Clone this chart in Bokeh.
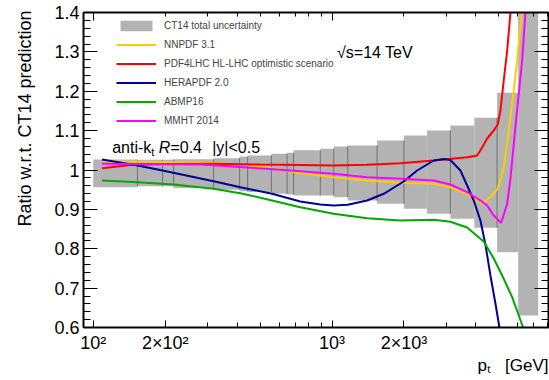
from bokeh.plotting import figure
from bokeh.models import (Range1d, FixedTicker, LogAxis, LinearAxis, Legend,
                          LegendItem, Label, Title, ColumnDataSource)
from bokeh.embed import file_html
from bokeh.resources import INLINE

FONT = "Liberation Sans"

# ---------------- data ----------------
# CT14 total uncertainty band (bin edges in GeV, ratio limits)
band_edges = [100, 153, 195, 217, 319, 410, 443, 557, 648, 690, 893, 1016,
              1163, 1544, 2000, 2500, 3130, 3945, 4910, 6015, 7294]
band_high = [1.0267, 1.026, 1.026, 1.027, 1.030, 1.034, 1.037, 1.041, 1.044,
             1.050, 1.0537, 1.0597, 1.0622, 1.0749, 1.0876, 1.1003, 1.1130,
             1.1326, 1.196, 1.45]
band_low = [0.9563, 0.959, 0.959, 0.954, 0.950, 0.946, 0.944, 0.9396, 0.938,
            0.935, 0.9352, 0.9309, 0.9225, 0.9142, 0.9015, 0.8888, 0.8760,
            0.8532, 0.7912, 0.6305]
# which interior bin edges show a darker separator line
band_edge_line = [1, 1, 1, 1, 1, 1, 1, 1, 1, 1, 1, 1, 1, 1, 0, 1, 0, 1, 0]

nnpdf_pt = [108.8, 173.3, 280.7, 412.9, 551.5, 736.5, 1015.5, 1401.7, 1932,
            2665, 3130, 3678, 4250, 4604, 4940, 5235, 5410, 5585, 5766, 5958,
            6151, 6280]
nnpdf_r = [1.0216, 1.0208, 1.0190, 1.0140, 1.0050, 0.9924, 0.9817, 0.9733,
           0.9675, 0.9650, 0.9563, 0.9396, 0.9149, 0.9309, 0.9523, 1.0071,
           1.0665, 1.1341, 1.2019, 1.2781, 1.3670, 1.43]

pdf4lhc_pt = [108.8, 142.9, 196.5, 319.1, 500.7, 736.5, 1015.5, 1401.7, 1932,
              2665, 3678, 4050, 4250, 4460, 4753, 4940, 5071, 5235, 5410,
              5585, 5650]
pdf4lhc_r = [1.0045, 1.0127, 1.0152, 1.0157, 1.0140, 1.0127, 1.0114, 1.0132,
             1.0173, 1.0241, 1.0325, 1.0368, 1.0571, 1.0800, 1.1003, 1.1156,
             1.1511, 1.2273, 1.3035, 1.40, 1.45]

herapdf_pt = [108.8, 153.3, 195.1, 319.1, 412.9, 560.6, 736.5, 893.3, 1015.5,
              1162.4, 1401.7, 1645, 1995, 2271, 2665, 2935, 3130, 3447, 3678,
              3920, 4181, 4387, 4604, 4832, 5046]
herapdf_r = [1.0267, 1.0114, 0.9987, 0.9715, 0.9563, 0.9396, 0.9200, 0.9124,
             0.9098, 0.9116, 0.9225, 0.9396, 0.9708, 0.9987, 1.0241, 1.0279,
             1.0254, 0.9987, 0.9606, 0.9225, 0.8717, 0.8108, 0.7320, 0.6610,
             0.5924]

abmp_pt = [108.8, 153.3, 217.0, 319.1, 412.9, 560.6, 736.5, 1015.5, 1401.7,
           1932, 2665, 3130, 3678, 4316, 4753, 5235, 5677, 6051, 6331]
abmp_r = [0.9733, 0.9690, 0.9632, 0.9523, 0.9411, 0.9225, 0.9055, 0.8888,
          0.8776, 0.8717, 0.8738, 0.8685, 0.8540, 0.8184, 0.7752, 0.7237,
          0.6770, 0.6305, 0.5975]

mmht_pt = [108.8, 173.3, 280.7, 412.9, 551.5, 736.5, 1015.5, 1401.7, 1932,
           2665, 3130, 3678, 4181, 4460, 4753, 5105, 5410, 5585, 5766, 6051,
           6252, 6454, 6550]
mmht_r = [1.0157, 1.0152, 1.0140, 1.0076, 1.0025, 0.9969, 0.9903, 0.9817,
          0.9776, 0.9733, 0.9632, 0.9436, 0.9225, 0.9098, 0.8844, 0.8659,
          0.9141, 0.9784, 1.0665, 1.1935, 1.2781, 1.40, 1.45]

# axis ticks
x_major = [100, 200, 1000, 2000]
x_labels = {100: "10\u00b2", 200: "2\u00d710\u00b2",
            1000: "10\u00b3", 2000: "2\u00d710\u00b3"}
x_top_major = [100, 1000]
x_minor = [90, 200, 300, 400, 500, 600, 700, 800, 900,
           2000, 3000, 4000, 5000, 6000, 7000, 8000]
x_minor_bottom = [90, 300, 400, 500, 600, 700, 800, 900,
                  3000, 4000, 5000, 6000, 7000, 8000]
y_major = [0.6, 0.7, 0.8, 0.9, 1.0, 1.1, 1.2, 1.3, 1.4]
y_labels = {0.6: "0.6", 0.7: "0.7", 0.8: "0.8", 0.9: "0.9", 1.0: "1",
            1.1: "1.1", 1.2: "1.2", 1.3: "1.3", 1.4: "1.4"}
y_minor = [0.62, 0.64, 0.66, 0.68, 0.72, 0.74, 0.76, 0.78, 0.82, 0.84, 0.86,
           0.88, 0.92, 0.94, 0.96, 0.98, 1.02, 1.04, 1.06, 1.08, 1.12, 1.14,
           1.16, 1.18, 1.22, 1.24, 1.26, 1.28, 1.32, 1.34, 1.36, 1.38]

# ---------------- figure ----------------
p = figure(width=549, height=380, x_axis_type="log",
           x_range=Range1d(91, 8060), y_range=Range1d(0.6, 1.4),
           output_backend="svg", toolbar_location=None,
           min_border_left=83, min_border_right=1, min_border_top=12,
           min_border_bottom=53)
p.grid.visible = False
p.outline_line_color = "black"
p.outline_line_width = 1
p.background_fill_color = "white"
p.border_fill_color = "white"

# band
band_src = ColumnDataSource(dict(left=band_edges[:-1], right=band_edges[1:],
                                 bottom=band_low, top=band_high))
band_r = p.quad(left="left", right="right", bottom="bottom", top="top",
                source=band_src, fill_color="#b3b3b3", line_color=None)

sep_x, sep_y0, sep_y1 = [], [], []
for i, flag in enumerate(band_edge_line):
    if flag:
        sep_x.append(band_edges[i + 1])
        sep_y0.append(max(band_low[i], band_low[i + 1]))
        sep_y1.append(min(band_high[i], band_high[i + 1]))
p.segment(x0=sep_x, x1=sep_x, y0=sep_y0, y1=sep_y1, line_color="#707070",
          line_width=1)

lw = 2
r_nn = p.line(nnpdf_pt, nnpdf_r, line_color="#ffcc00", line_width=lw)
r_pdf = p.line(pdf4lhc_pt, pdf4lhc_r, line_color="#ff0000", line_width=lw)
r_hera = p.line(herapdf_pt, herapdf_r, line_color="#000099", line_width=lw)
r_abmp = p.line(abmp_pt, abmp_r, line_color="#00a800", line_width=lw)
r_mmht = p.line(mmht_pt, mmht_r, line_color="#ff00ff", line_width=lw)

# ---------------- axes ----------------
xa = p.xaxis[0]
xa.ticker = FixedTicker(ticks=x_major, minor_ticks=x_minor_bottom)
xa.major_label_overrides = x_labels
ya = p.yaxis[0]
ya.ticker = FixedTicker(ticks=y_major, minor_ticks=y_minor)
ya.major_label_overrides = y_labels

top = LogAxis(ticker=FixedTicker(ticks=x_top_major, minor_ticks=x_minor))
right = LinearAxis(ticker=FixedTicker(ticks=y_major, minor_ticks=y_minor))
p.add_layout(top, "above")
p.add_layout(right, "right")

for ax in (xa, ya, top, right):
    ax.axis_line_color = "black"
    ax.axis_line_width = 2
    ax.major_tick_line_color = "black"
    ax.minor_tick_line_color = "black"
    ax.major_tick_out = 0
    ax.minor_tick_out = 0
    ax.major_label_text_font = FONT
    ax.major_label_text_font_size = "18px"
    ax.major_label_text_color = "black"
for ax in (top, right):
    ax.major_label_text_font_size = "1px"
    ax.major_label_text_alpha = 0
    ax.major_label_standoff = 0

xa.major_tick_in = 7
xa.minor_tick_in = 5
top.major_tick_in = 8
top.minor_tick_in = 4
ya.major_tick_in = 14
ya.minor_tick_in = 7
right.major_tick_in = 14
right.minor_tick_in = 7
ya.major_label_standoff = 4
xa.major_label_standoff = 5

# axis titles (outside the frame)
p.add_layout(Title(text="Ratio w.r.t. CT14 prediction", align="right",
                   offset=-2, standoff=29, vertical_align="top",
                   text_font=FONT, text_font_size="18px",
                   text_font_style="normal", text_color="black"), "left")
p.add_layout(Title(text="p\u209c\u00a0\u00a0\u00a0[GeV]",
                   align="right", offset=0, standoff=0,
                   vertical_align="top", text_font=FONT,
                   text_font_size="17px", text_font_style="normal",
                   text_color="black"), "below")

# ---------------- legend ----------------
legend = Legend(items=[
    LegendItem(label="CT14 total uncertainty", renderers=[band_r]),
    LegendItem(label="NNPDF 3.1", renderers=[r_nn]),
    LegendItem(label="PDF4LHC HL-LHC optimistic scenario", renderers=[r_pdf]),
    LegendItem(label="HERAPDF 2.0", renderers=[r_hera]),
    LegendItem(label="ABMP16", renderers=[r_abmp]),
    LegendItem(label="MMHT 2014", renderers=[r_mmht]),
], location=(33, 200), glyph_width=40, glyph_height=13, label_height=13,
   spacing=6, padding=0, margin=0, label_standoff=8,
   label_text_font=FONT, label_text_font_size="10px",
   border_line_alpha=0, background_fill_alpha=0)
p.add_layout(legend)

# ---------------- texts inside the frame ----------------
def lab(x, y, text, size, style="normal", align="left"):
    p.add_layout(Label(x=x, y=y, x_units="screen", y_units="screen",
                       text=text, text_font=FONT, text_font_size=size,
                       text_font_style=style, text_align=align,
                       text_baseline="alphabetic", text_color="black"))

lab(28.7, 180, "anti-k", "16px")
lab(67.8, 176, "t", "11px")
lab(75.3, 180, "R", "16px", style="italic")
lab(86.9, 180, "=0.4", "16px")
lab(128.7, 180, "|y|<0.5", "16px")
lab(253.5, 275.3, "\u221as=14 TeV", "16px")

open("out.html", "w").write(file_html(p, INLINE))
